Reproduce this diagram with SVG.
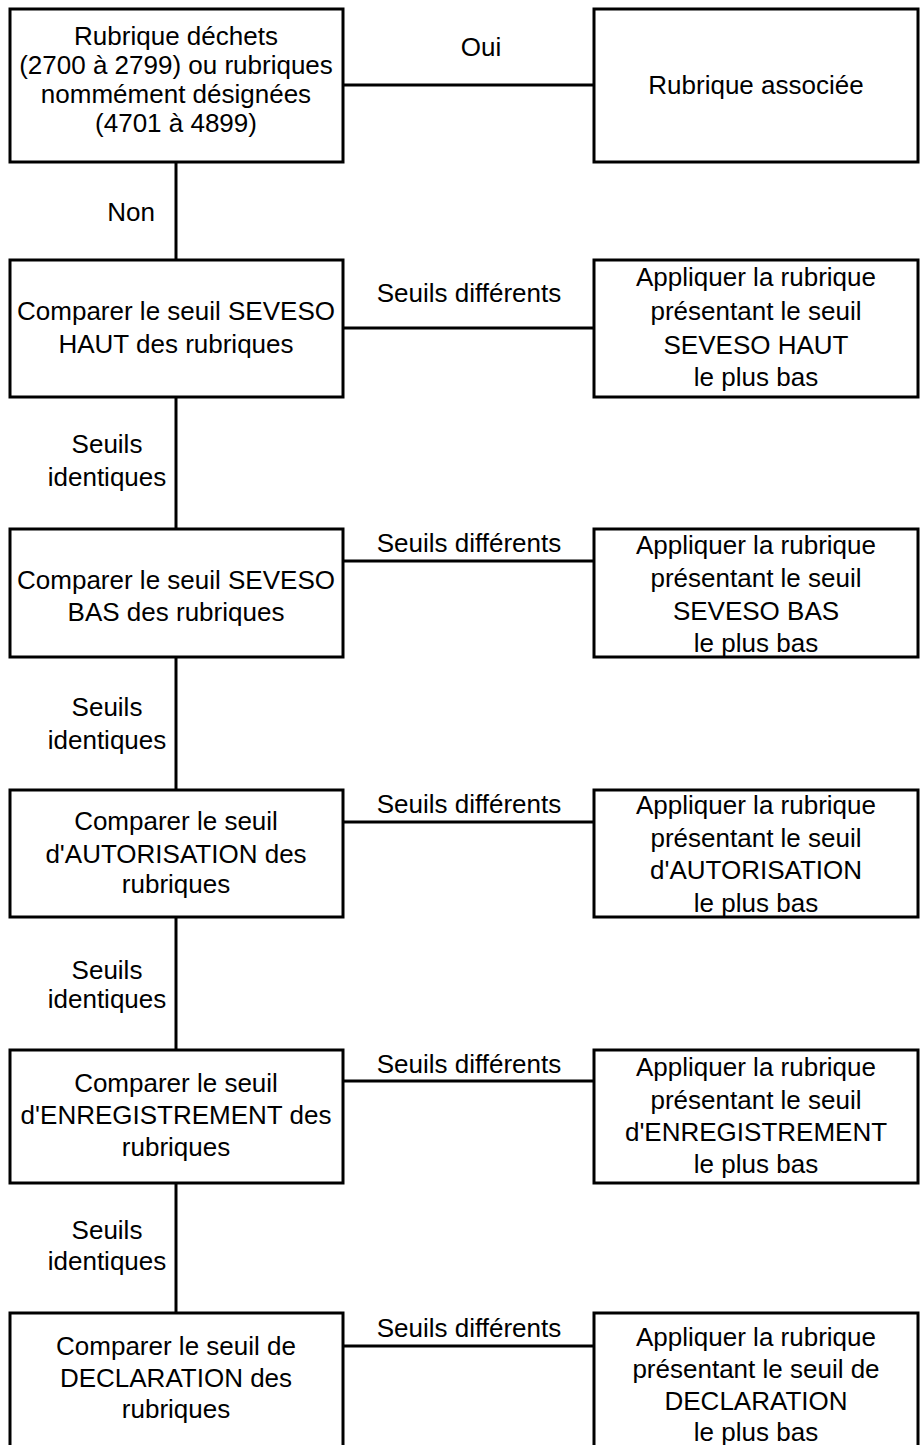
<svg xmlns="http://www.w3.org/2000/svg" width="920" height="1445" viewBox="0 0 920 1445">
<style>
.box{fill:#fff;stroke:#000;stroke-width:3}
.ln{stroke:#000;stroke-width:3;fill:none}
text{font-family:"Liberation Sans",Arial,sans-serif;font-size:26px;fill:#000;text-anchor:middle}
</style>
<rect width="920" height="1445" fill="#fff"/>
<g id="connectors">
<line class="ln" x1="343" y1="85" x2="594" y2="85"/>
<line class="ln" x1="176" y1="162" x2="176" y2="260"/>
<line class="ln" x1="343" y1="328" x2="594" y2="328"/>
<line class="ln" x1="176" y1="397" x2="176" y2="529"/>
<line class="ln" x1="343" y1="561" x2="594" y2="561"/>
<line class="ln" x1="176" y1="657" x2="176" y2="790"/>
<line class="ln" x1="343" y1="822" x2="594" y2="822"/>
<line class="ln" x1="176" y1="917" x2="176" y2="1050"/>
<line class="ln" x1="343" y1="1081" x2="594" y2="1081"/>
<line class="ln" x1="176" y1="1183" x2="176" y2="1313"/>
<line class="ln" x1="343" y1="1346" x2="594" y2="1346"/>
<text x="481" y="56">Oui</text>
<text x="131" y="221">Non</text>
<text x="469" y="302">Seuils différents</text>
<text x="469" y="552">Seuils différents</text>
<text x="469" y="813">Seuils différents</text>
<text x="469" y="1073">Seuils différents</text>
<text x="469" y="1337">Seuils différents</text>
<text x="107" y="453">Seuils</text><text x="107" y="486">identiques</text>
<text x="107" y="716">Seuils</text><text x="107" y="749">identiques</text>
<text x="107" y="979">Seuils</text><text x="107" y="1008">identiques</text>
<text x="107" y="1239">Seuils</text><text x="107" y="1270">identiques</text>
</g>
<g id="n1"><rect class="box" x="10" y="9" width="333" height="153"/>
<text x="176" y="45">Rubrique déchets</text><text x="176" y="74">(2700 à 2799) ou rubriques</text><text x="176" y="103">nommément désignées</text><text x="176" y="132">(4701 à 4899)</text></g>
<g id="n1r"><rect class="box" x="594" y="9" width="324" height="153"/>
<text x="756" y="94">Rubrique associée</text></g>
<g id="n2"><rect class="box" x="10" y="260" width="333" height="137"/>
<text x="176" y="320">Comparer le seuil SEVESO</text><text x="176" y="353">HAUT des rubriques</text></g>
<g id="n2r"><rect class="box" x="594" y="260" width="324" height="137"/>
<text x="756" y="286">Appliquer la rubrique</text><text x="756" y="320">présentant le seuil</text><text x="756" y="354">SEVESO HAUT</text><text x="756" y="386">le plus bas</text></g>
<g id="n3"><rect class="box" x="10" y="529" width="333" height="128"/>
<text x="176" y="589">Comparer le seuil SEVESO</text><text x="176" y="621">BAS des rubriques</text></g>
<g id="n3r"><rect class="box" x="594" y="529" width="324" height="128"/>
<text x="756" y="554">Appliquer la rubrique</text><text x="756" y="587">présentant le seuil</text><text x="756" y="620">SEVESO BAS</text><text x="756" y="652">le plus bas</text></g>
<g id="n4"><rect class="box" x="10" y="790" width="333" height="127"/>
<text x="176" y="830">Comparer le seuil</text><text x="176" y="863">d'AUTORISATION des</text><text x="176" y="893">rubriques</text></g>
<g id="n4r"><rect class="box" x="594" y="790" width="324" height="127"/>
<text x="756" y="814">Appliquer la rubrique</text><text x="756" y="847">présentant le seuil</text><text x="756" y="879">d'AUTORISATION</text><text x="756" y="912">le plus bas</text></g>
<g id="n5"><rect class="box" x="10" y="1050" width="333" height="133"/>
<text x="176" y="1092">Comparer le seuil</text><text x="176" y="1124">d'ENREGISTREMENT des</text><text x="176" y="1156">rubriques</text></g>
<g id="n5r"><rect class="box" x="594" y="1050" width="324" height="133"/>
<text x="756" y="1076">Appliquer la rubrique</text><text x="756" y="1109">présentant le seuil</text><text x="756" y="1141">d'ENREGISTREMENT</text><text x="756" y="1173">le plus bas</text></g>
<g id="n6"><rect class="box" x="10" y="1313" width="333" height="150"/>
<text x="176" y="1355">Comparer le seuil de</text><text x="176" y="1387">DECLARATION des</text><text x="176" y="1418">rubriques</text></g>
<g id="n6r"><rect class="box" x="594" y="1313" width="324" height="150"/>
<text x="756" y="1346">Appliquer la rubrique</text><text x="756" y="1378">présentant le seuil de</text><text x="756" y="1410">DECLARATION</text><text x="756" y="1441">le plus bas</text></g>
</svg>
